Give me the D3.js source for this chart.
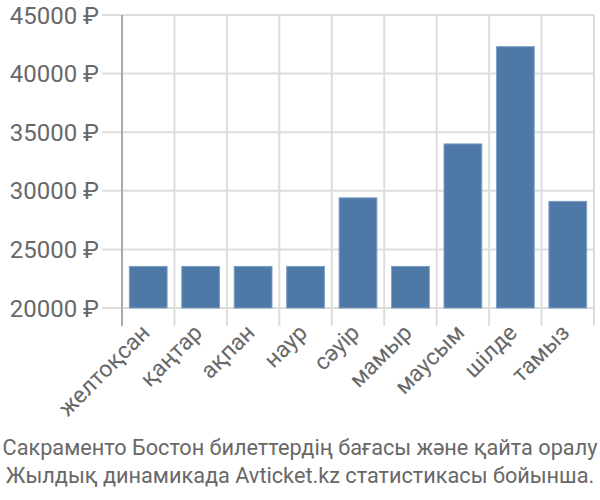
<!DOCTYPE html>
<html><head><meta charset="utf-8">
<script src="https://cdn.jsdelivr.net/npm/d3@7"></script>
<style>body{margin:0;background:#fff}svg{display:block}</style>
</head><body>
<svg id="c" width="600" height="500"></svg>
<script>
const categories = ["желтоқсан","қаңтар","ақпан","наур","сәуір","мамыр","маусым","шілде","тамыз"];
const values = [23550, 23550, 23550, 23550, 29400, 23550, 34000, 42300, 29100];
const yTicks = [20000, 25000, 30000, 35000, 40000, 45000];
const titleLines = ["Сакраменто Бостон билеттердің бағасы және қайта оралу", "Жылдық динамикада Avticket.kz статистикасы бойынша."];

const svg = d3.select("#c");
const L = 122, R = 594, T = 15, B = 308;
const font = "Roboto, 'Liberation Sans', Arial, sans-serif";
const textColor = "#686868";
const x = d3.scaleBand().domain(categories).range([L, R]).paddingInner(0.28).paddingOuter(0.14);
const y = d3.scaleLinear().domain([20000, 45000]).range([B, T]);

// horizontal grid
svg.append("g").selectAll("line").data(yTicks).join("line")
  .attr("x1", 102).attr("x2", R).attr("y1", d => y(d)).attr("y2", d => y(d))
  .attr("stroke", "#dddddd").attr("stroke-width", 2);
// vertical grid
const step = x.step();
const vlines = d3.range(categories.length + 1).map(i => L + i * step);
svg.append("g").selectAll("line").data(vlines.slice(1)).join("line")
  .attr("x1", d => d).attr("x2", d => d).attr("y1", T).attr("y2", 326)
  .attr("stroke", "#dddddd").attr("stroke-width", 2);
// y axis line
svg.append("line").attr("x1", L).attr("x2", L).attr("y1", T).attr("y2", 326)
  .attr("stroke", "#aaaaaa").attr("stroke-width", 2);

// bars
svg.append("g").selectAll("rect").data(values).join("rect")
  .attr("x", (d, i) => x(categories[i])).attr("width", x.bandwidth())
  .attr("y", d => y(d)).attr("height", d => y(20000) - y(d))
  .attr("fill", "#4e79a7").attr("stroke", "#7f9fc4").attr("stroke-width", 1);

// y labels
svg.append("g").selectAll("text").data(yTicks).join("text")
  .attr("x", 99).attr("y", d => y(d) + 8.5).attr("text-anchor", "end")
  .attr("font-family", font).attr("font-size", 24).attr("fill", textColor)
  .text(d => d + " ₽");

// x labels
svg.append("g").selectAll("text").data(categories).join("text")
  .attr("text-anchor", "end")
  .attr("transform", d => `translate(${x(d) + x.bandwidth() / 2 + 3},${334}) rotate(-45)`)
  .attr("font-family", font).attr("font-size", 23).attr("fill", textColor)
  .text(d => d);

// title
svg.append("g").selectAll("text").data(titleLines).join("text")
  .attr("x", 300).attr("y", (d, i) => 455 + i * 28).attr("text-anchor", "middle")
  .attr("font-family", font).attr("font-size", 21.7).attr("fill", textColor)
  .text(d => d);
</script>
</body></html>
